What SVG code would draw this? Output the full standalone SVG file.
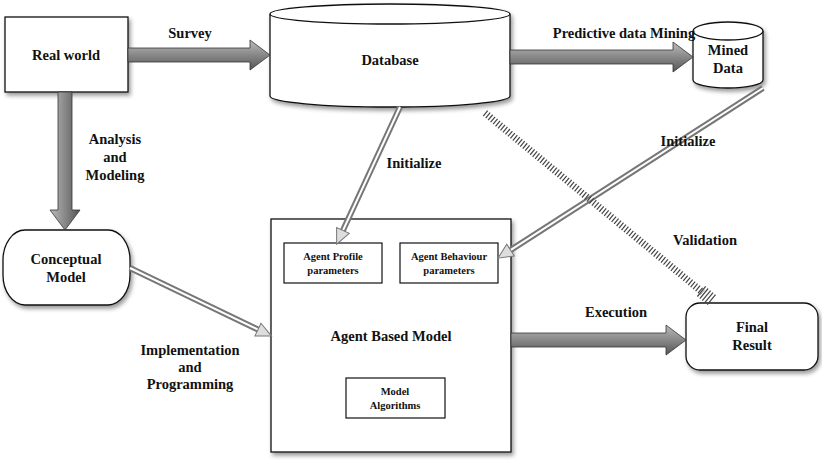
<svg xmlns="http://www.w3.org/2000/svg" width="822" height="460" viewBox="0 0 822 460">
<style>
.n{fill:#fff;stroke:#111;stroke-width:1.3}
.s{fill:#fff;stroke:#111;stroke-width:1.2}
text{font-family:"Liberation Serif","DejaVu Serif",serif;font-weight:bold;fill:#111;text-anchor:middle}
.l{font-size:14.5px}
.sm{font-size:10.5px}
.th{stroke:#333;stroke-width:0.8}
.dl{stroke:#777;stroke-width:6}
.dw{stroke:#fff;stroke-width:2}
.hd{fill:#ddd;stroke:#777;stroke-width:1}
.ht{stroke:#444;stroke-dasharray:1.2 2;fill:none}
</style>
<defs>
<filter id="sh" x="-10%" y="-10%" width="130%" height="130%"><feDropShadow dx="2" dy="3" stdDeviation="2" flood-color="#000" flood-opacity="0.4"/></filter>
<linearGradient id="gh" x1="0" y1="0" x2="0" y2="1"><stop offset="0" stop-color="#bbb"/><stop offset="0.5" stop-color="#888"/><stop offset="1" stop-color="#555"/></linearGradient>
<linearGradient id="gv" x1="0" y1="0" x2="1" y2="0"><stop offset="0" stop-color="#bbb"/><stop offset="0.5" stop-color="#888"/><stop offset="1" stop-color="#555"/></linearGradient>
</defs>
<g id="real-world"><rect class="n" filter="url(#sh)" x="5" y="17" width="123" height="75"/><text class="l" x="66" y="60">Real world</text></g>
<g id="database"><path class="n" filter="url(#sh)" d="M270,14 A120,10 0 0 1 510,14 L510,96 A120,11 0 0 1 270,96 Z"/><path class="n" d="M270,14 A120,10 0 0 0 510,14"/><text class="l" x="390" y="65">Database</text></g>
<g id="mined-data"><path class="n" filter="url(#sh)" d="M693,31 A35,9 0 0 1 763,31 L763,80 A35,8 0 0 1 693,80 Z"/><path class="n" d="M693,31 A35,9 0 0 0 763,31"/><text class="l" x="728" y="55">Mined</text><text class="l" x="728" y="73">Data</text></g>
<g id="conceptual-model"><rect class="n" filter="url(#sh)" x="3" y="230" width="127" height="75" rx="22" ry="30"/><text class="l" x="66" y="264">Conceptual</text><text class="l" x="66" y="282">Model</text></g>
<g id="abm"><rect class="n" filter="url(#sh)" x="271" y="219" width="240" height="233"/><text class="l" x="391" y="341">Agent Based Model</text></g>
<g id="agent-profile"><rect class="s" x="284" y="243" width="98" height="40"/><text class="sm" x="333" y="260">Agent Profile</text><text class="sm" x="333" y="274">parameters</text></g>
<g id="agent-behaviour"><rect class="s" x="400" y="243" width="98" height="40"/><text class="sm" x="449" y="260">Agent Behaviour</text><text class="sm" x="449" y="274">parameters</text></g>
<g id="model-algorithms"><rect class="s" x="346" y="378" width="99" height="40"/><text class="sm" x="395" y="395">Model</text><text class="sm" x="395" y="409">Algorithms</text></g>
<g id="final-result"><rect class="n" filter="url(#sh)" x="686" y="303" width="132" height="67" rx="14"/><text class="l" x="752" y="332">Final</text><text class="l" x="752" y="350">Result</text></g>
<g id="connectors">
<polygon class="th" fill="url(#gh)" points="128,48 250,48 250,40 270,55 250,70 250,62 128,62"/>
<polygon class="th" fill="url(#gh)" points="510,50 673,50 673,42 693,57 673,72 673,64 510,64"/>
<polygon class="th" fill="url(#gh)" points="511,333 666,333 666,325 686,340 666,355 666,347 511,347"/>
<polygon class="th" fill="url(#gv)" points="58,92 72,92 72,210 80,210 65,230 50,210 58,210"/>
<g transform="translate(130,268) rotate(25.7)"><line class="dl" x1="0" y1="0" x2="143" y2="0"/><line class="dw" x1="0" y1="0" x2="143" y2="0"/><polygon class="hd" points="142,-7 157,0 142,7"/></g>
<g transform="translate(400,107) rotate(114.8)"><line class="dl" x1="0" y1="0" x2="137" y2="0"/><line class="dw" x1="0" y1="0" x2="137" y2="0"/><polygon class="hd" points="136,-7 151,0 136,7"/></g>
<g transform="translate(763,88) rotate(147.3)"><line class="dl" x1="0" y1="0" x2="301" y2="0"/><line class="dw" x1="0" y1="0" x2="301" y2="0"/><polygon class="hd" points="300,-7 315,0 300,7"/></g>
<g transform="translate(485,113) rotate(39.5)"><line class="ht" x1="0" y1="0" x2="282" y2="0" stroke-width="7"/><line class="ht" x1="280" y1="0" x2="294" y2="0" stroke-width="13"/></g>
</g>
<g id="labels">
<text class="l" x="190" y="38">Survey</text>
<text class="l" x="624" y="38">Predictive data Mining</text>
<text class="l" x="115" y="144">Analysis</text><text class="l" x="115" y="162">and</text><text class="l" x="115" y="180">Modeling</text>
<text class="l" x="414" y="168">Initialize</text>
<text class="l" x="688" y="146">Initialize</text>
<text class="l" x="705" y="245">Validation</text>
<text class="l" x="616" y="317">Execution</text>
<text class="l" x="190" y="355">Implementation</text><text class="l" x="190" y="372">and</text><text class="l" x="190" y="389">Programming</text>
</g>
</svg>
